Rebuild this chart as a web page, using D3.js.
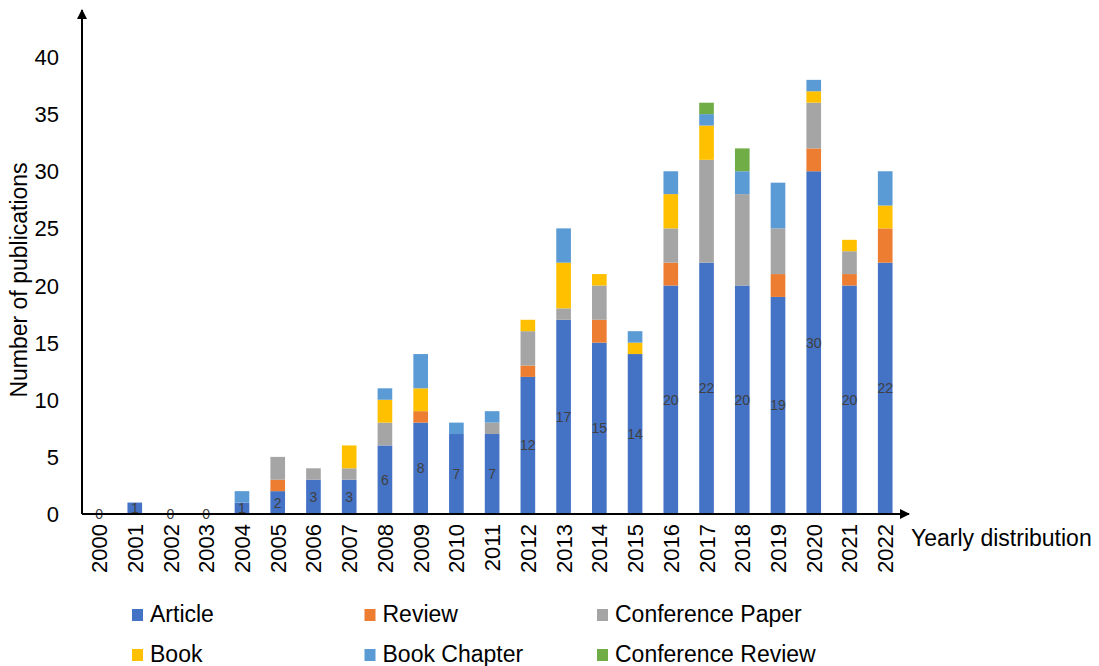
<!DOCTYPE html>
<html>
<head>
<meta charset="utf-8">
<script src="https://cdn.jsdelivr.net/npm/d3@7"></script>
<style>
  body { margin: 0; background: #fff; }
  text { font-family: "Liberation Sans", Arial, sans-serif; }
</style>
</head>
<body>
<svg id="chart" width="1099" height="666"></svg>
<script>
// ---- data ----
var years = ["2000","2001","2002","2003","2004","2005","2006","2007","2008","2009","2010",
             "2011","2012","2013","2014","2015","2016","2017","2018","2019","2020","2021","2022"];
var article    = [0,1,0,0,1,2,3,3,6,8,7,7,12,17,15,14,20,22,20,19,30,20,22];
var review     = [0,0,0,0,0,1,0,0,0,1,0,0,1,0,2,0,2,0,0,2,2,1,3];
var confPaper  = [0,0,0,0,0,2,1,1,2,0,0,1,3,1,3,0,3,9,8,4,4,2,0];
var book       = [0,0,0,0,0,0,0,2,2,2,0,0,1,4,1,1,3,3,0,0,1,1,2];
var bookChap   = [0,0,0,0,1,0,0,0,1,3,1,1,0,3,0,1,2,1,2,4,1,0,3];
var confReview = [0,0,0,0,0,0,0,0,0,0,0,0,0,0,0,0,0,1,2,0,0,0,0];
var seriesNames = ["Article","Review","Conference Paper","Book","Book Chapter","Conference Review"];
var yTicks = [0,5,10,15,20,25,30,35,40];

var colors = ["#4472C4","#ED7D31","#A5A5A5","#FFC000","#5B9BD5","#70AD47"];

var svg = d3.select("#chart");

var x0 = 82, x1 = 905, yBase = 514, yTop = 57;

var x = d3.scaleBand()
	.domain(years)
	.range([81, 903.25])
	.paddingInner(0.59)
	.paddingOuter(0.3);

var y = d3.scaleLinear()
	.domain([0, 40])
	.range([yBase, yTop]);

// table for the stack
var rows = years.map(function(yr, i) {
	return {
		year: yr,
		"Article": article[i],
		"Review": review[i],
		"Conference Paper": confPaper[i],
		"Book": book[i],
		"Book Chapter": bookChap[i],
		"Conference Review": confReview[i]
	};
});

var stacked = d3.stack().keys(seriesNames)(rows);

var layers = svg.append("g").selectAll("g")
	.data(stacked)
	.enter()
	.append("g")
		.attr("fill", function(d, i) { return colors[i]; });

layers.selectAll("rect")
	.data(function(d) { return d; })
	.enter()
	.append("rect")
		.attr("x", function(d) { return x(d.data.year); })
		.attr("y", function(d) { return y(d[1]); })
		.attr("width", x.bandwidth())
		.attr("height", function(d) { return y(d[0]) - y(d[1]); });

// article value labels, centred in the article segment
svg.append("g").selectAll("text")
	.data(rows)
	.enter()
	.append("text")
		.attr("x", function(d) { return x(d.year) + x.bandwidth() / 2; })
		.attr("y", function(d) { return y(d["Article"] / 2) + 5; })
		.attr("text-anchor", "middle")
		.attr("font-size", 14)
		.attr("fill", "#404040")
		.text(function(d) { return d["Article"]; });

// arrow marker
svg.append("defs").append("marker")
	.attr("id", "arrow")
	.attr("viewBox", "0 0 10 10")
	.attr("refX", 9).attr("refY", 5)
	.attr("markerWidth", 5).attr("markerHeight", 5)
	.attr("markerUnits", "strokeWidth")
	.attr("orient", "auto")
	.append("path")
		.attr("d", "M0,0 L10,5 L0,10 Z")
		.attr("fill", "#000");

// axes lines
svg.append("line")
	.attr("x1", x0).attr("y1", yBase).attr("x2", x0).attr("y2", 10)
	.attr("stroke", "#000").attr("stroke-width", 2)
	.attr("marker-end", "url(#arrow)");
svg.append("line")
	.attr("x1", x0).attr("y1", yBase).attr("x2", x1 + 4).attr("y2", yBase)
	.attr("stroke", "#000").attr("stroke-width", 2)
	.attr("marker-end", "url(#arrow)");

// y tick labels
svg.append("g").selectAll("text")
	.data(yTicks)
	.enter()
	.append("text")
		.attr("x", 59)
		.attr("y", function(d) { return y(d) + 8; })
		.attr("text-anchor", "end")
		.attr("font-size", 22)
		.attr("fill", "#000")
		.text(function(d) { return d; });

// x tick labels, rotated
svg.append("g").selectAll("text")
	.data(years)
	.enter()
	.append("text")
		.attr("transform", function(d) {
			return "translate(" + (x(d) + x.bandwidth() / 2 + 8) + "," + 524 + ") rotate(-90)";
		})
		.attr("text-anchor", "end")
		.attr("font-size", 22)
		.attr("fill", "#000")
		.text(function(d) { return d; });

// axis titles
svg.append("text")
	.attr("transform", "translate(27,280) rotate(-90)")
	.attr("text-anchor", "middle")
	.attr("font-size", 23)
	.text("Number of publications");

svg.append("text")
	.attr("x", 911)
	.attr("y", 546)
	.attr("font-size", 23)
	.text("Yearly distribution");

// legend, 3 per row
var legend = svg.append("g").selectAll("g")
	.data(seriesNames)
	.enter()
	.append("g")
		.attr("transform", function(d, i) {
			var col = i % 3, row = Math.floor(i / 3);
			return "translate(" + (132 + col * 232.5) + "," + (622 + row * 40) + ")";
		});

legend.append("rect")
	.attr("x", 0).attr("y", -13)
	.attr("width", 11).attr("height", 12)
	.attr("fill", function(d, i) { return colors[i]; });

legend.append("text")
	.attr("x", 18)
	.attr("y", 0)
	.attr("font-size", 23)
	.attr("fill", "#000")
	.text(function(d) { return d; });
</script>
</body>
</html>
